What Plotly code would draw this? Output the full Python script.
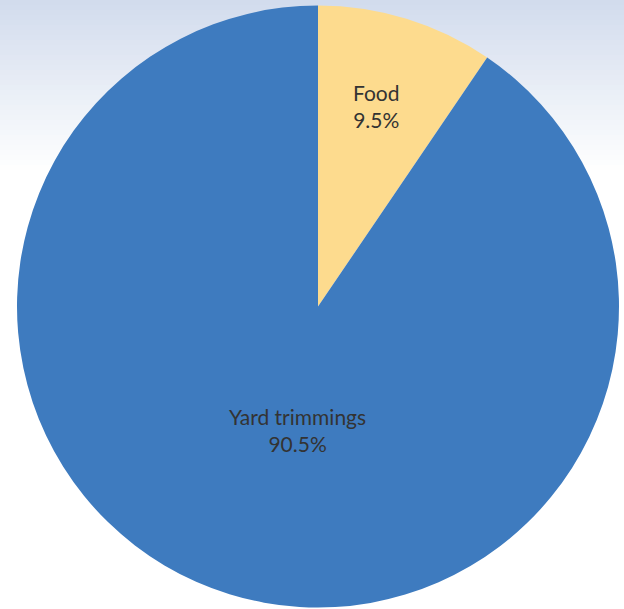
import plotly.graph_objects as go

# Composition of material (share of total)
categories = ["Food", "Yard trimmings"]
shares = [9.5, 90.5]
slice_colors = ["#fddb8e", "#3e7bbf"]

W, H = 624, 609
CX, CY, R = 318, 306.5, 301  # pie centre and radius in pixels

fig = go.Figure()

fig.add_trace(go.Pie(
    labels=categories,
    values=shares,
    sort=False,
    direction="clockwise",
    rotation=0,
    marker=dict(colors=slice_colors, line=dict(width=0)),
    textinfo="none",
    hoverinfo="label+percent",
    showlegend=False,
    domain=dict(x=[(CX - R) / W, (CX + R) / W],
                y=[(H - CY - R) / H, (H - CY + R) / H]),
))

# soft blue-to-white wash at the top of the page
top = (210, 220, 237)
fade_px = 170
bands = 34
shapes = []
for i in range(bands):
    t = i / bands
    c = tuple(round(top[k] + (255 - top[k]) * t) for k in range(3))
    y1 = 1 - (i * fade_px / bands) / H
    y0 = 1 - ((i + 1) * fade_px / bands) / H
    shapes.append(dict(type="rect", xref="paper", yref="paper",
                       x0=0, x1=1, y0=y0, y1=y1, layer="below",
                       line=dict(width=0),
                       fillcolor="rgb(%d,%d,%d)" % c))

# slice labels: name and percentage
label_pos = {"Food": (376, 106), "Yard trimmings": (297, 430)}
annotations = []
for name, val in zip(categories, shares):
    px, py = label_pos[name]
    annotations.append(dict(
        x=px / W, y=1 - py / H, xref="paper", yref="paper",
        text=f"{name}<br>{val:.1f}%", showarrow=False,
        font=dict(family="Lato", size=21, color="#333333"),
        align="center", xanchor="center", yanchor="middle",
    ))

fig.update_layout(
    width=W, height=H,
    margin=dict(l=0, r=0, t=0, b=0),
    paper_bgcolor="white",
    plot_bgcolor="white",
    shapes=shapes,
    annotations=annotations,
)

fig.write_html("out.html")
